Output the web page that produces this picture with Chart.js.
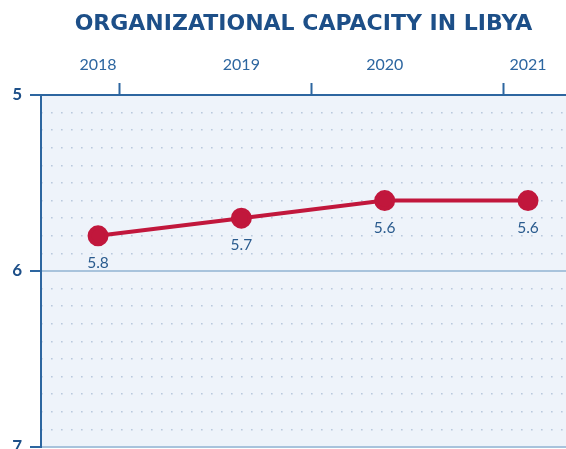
<!DOCTYPE html>
<html lang="en">
<head>
    <meta charset="UTF-8">
    <title>Organizational Capacity in Libya</title>
    <script src="https://cdn.jsdelivr.net/npm/chart.js"></script>
    <style>
        * { margin: 0; padding: 0; box-sizing: border-box; }
        body { background: #ffffff; width: 566px; height: 449px; overflow: hidden; }
        .chart-container { width: 566px; height: 449px; }
    </style>
</head>
<body>
    <div class="chart-container">
        <canvas id="capacityChart"></canvas>
    </div>

    <script>
        const years = ['2018', '2019', '2020', '2021'];
        const capacity = [5.8, 5.7, 5.6, 5.6];
        const yTicks = [5, 6, 7];
        const topTickMarks = [0, 1, 2];

        const navy = '#1d4f88';
        const axisBlue = '#2d66a0';

        const plotBackground = {
            id: 'plotBackground',
            beforeDraw(chart) {
                const { ctx, chartArea: a } = chart;
                ctx.save();
                ctx.fillStyle = '#eef3fa';
                ctx.fillRect(a.left, a.top, a.right - a.left, a.bottom - a.top);
                ctx.restore();
            }
        };

        const pointLabels = {
            id: 'pointLabels',
            afterDatasetsDraw(chart) {
                const ctx = chart.ctx;
                const meta = chart.getDatasetMeta(0);
                ctx.save();
                ctx.font = '15.5px Lato, "Open Sans", sans-serif';
                ctx.fillStyle = '#2a5b8e';
                ctx.textAlign = 'center';
                ctx.textBaseline = 'middle';
                meta.data.forEach((pt, i) => {
                    ctx.fillText(capacity[i].toFixed(1), pt.x, pt.y + 27);
                });
                ctx.restore();
            }
        };

        const noPad = scale => {
            scale.paddingLeft = 0;
            scale.paddingRight = 0;
            scale.paddingTop = 0;
            scale.paddingBottom = 0;
        };

        const ctx = document.getElementById('capacityChart').getContext('2d');
        new Chart(ctx, {
            type: 'line',
            data: {
                datasets: [{
                    data: capacity.map((v, i) => ({ x: i, y: v })),
                    borderColor: '#c1173c',
                    backgroundColor: '#c1173c',
                    borderWidth: 4,
                    pointRadius: 8.5,
                    pointHoverRadius: 8.5,
                    tension: 0
                }]
            },
            options: {
                responsive: true,
                maintainAspectRatio: false,
                animation: false,
                layout: { autoPadding: false, padding: { top: 0, left: 0, right: 0, bottom: 2 } },
                plugins: {
                    legend: { display: false },
                    tooltip: { enabled: false },
                    title: {
                        display: true,
                        fullSize: false,
                        text: 'ORGANIZATIONAL CAPACITY IN LIBYA',
                        color: navy,
                        font: { family: '"DejaVu Sans", sans-serif', size: 22, weight: 'bold' },
                        padding: { top: 11, bottom: 20.6 }
                    }
                },
                scales: {
                    x: {
                        type: 'linear',
                        position: 'top',
                        weight: 1,
                        min: -0.398,
                        max: 3.265,
                        afterBuildTicks: scale => { scale.ticks = years.map((_, i) => ({ value: i })); },
                        afterFit: scale => { scale.height = 25; noPad(scale); },
                        grid: { display: false, drawTicks: false },
                        border: { display: false },
                        ticks: {
                            color: axisBlue,
                            padding: 9,
                            maxRotation: 0,
                            font: { family: 'Lato, "Open Sans", sans-serif', size: 16 },
                            callback: v => years[v]
                        }
                    },
                    x2: {
                        type: 'linear',
                        position: 'top',
                        weight: 0,
                        min: -0.411,
                        max: 2.323,
                        afterBuildTicks: scale => { scale.ticks = topTickMarks.map(v => ({ value: v })); },
                        afterFit: scale => { scale.height = 12; noPad(scale); },
                        grid: {
                            drawOnChartArea: false,
                            tickLength: 12,
                            tickColor: axisBlue,
                            tickWidth: 2
                        },
                        border: { display: true, color: axisBlue, width: 2 },
                        ticks: { display: false }
                    },
                    y: {
                        type: 'linear',
                        position: 'left',
                        reverse: true,
                        min: 5,
                        max: 7,
                        weight: 0,
                        afterBuildTicks: scale => { scale.ticks = yTicks.map(v => ({ value: v })); },
                        afterFit: scale => { scale.width = 41; noPad(scale); },
                        grid: {
                            color: c => (c.tick && c.tick.value === 5) ? 'rgba(0,0,0,0)' : '#a8c3dc',
                            lineWidth: 2,
                            tickLength: 11,
                            tickColor: axisBlue,
                            tickWidth: 2
                        },
                        border: { display: true, color: axisBlue, width: 2 },
                        ticks: {
                            color: navy,
                            padding: 8,
                            font: { family: 'Lato, "Open Sans", sans-serif', size: 17, weight: 'bold' }
                        }
                    },
                    y2: {
                        type: 'linear',
                        position: 'left',
                        reverse: true,
                        min: 5,
                        max: 7,
                        weight: 1,
                        ticks: { display: false, stepSize: 0.1 },
                        afterFit: scale => { scale.width = 0; noPad(scale); },
                        grid: {
                            drawTicks: false,
                            lineWidth: 1.6,
                            color: c => {
                                const v = c.tick ? c.tick.value : 0;
                                return Math.abs(v - Math.round(v)) < 1e-6 ? 'rgba(0,0,0,0)' : '#b9c9dd';
                            }
                        },
                        border: { display: false, dash: [1.6, 8.4] }
                    }
                }
            },
            plugins: [plotBackground, pointLabels]
        });
    </script>
</body>
</html>
